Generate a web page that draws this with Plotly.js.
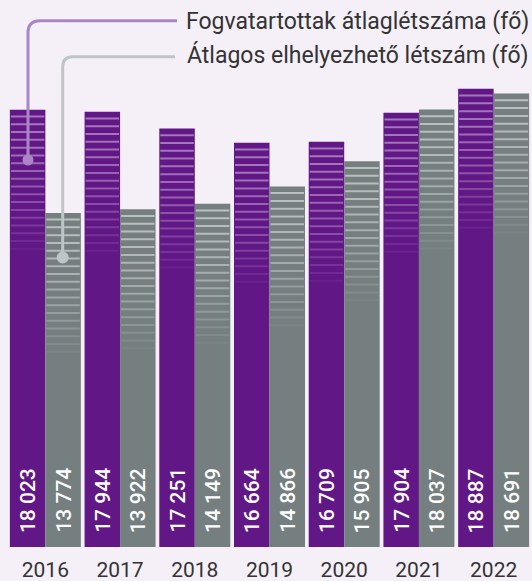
<!DOCTYPE html>
<html>
<head>
<meta charset="utf-8">
<script src="https://cdn.plot.ly/plotly-3.0.1.min.js"></script>
<style>html,body{margin:0;padding:0;background:#f5f0f8;}#chart{width:532px;height:581px;}</style>
</head>
<body>
<div id="chart"></div>
<script>
// ---- data ----
const years = ["2016", "2017", "2018", "2019", "2020", "2021", "2022"];
const inmates = [18023, 17944, 17251, 16664, 16709, 17904, 18887];   // Fogvatartottak átlaglétszáma (fő)
const capacity = [13774, 13922, 14149, 14866, 15905, 18037, 18691];  // Átlagos elhelyezhető létszám (fő)
const seriesNames = ["Fogvatartottak átlaglétszáma (fő)", "Átlagos elhelyezhető létszám (fő)"];

// ---- style ----
const PURPLE = "#621787", GRAY = "#757f80", BG = "#f5f0f8", TXT = "#333333";
const FONT = "Roboto, 'DejaVu Sans', sans-serif";
const W = 532, H = 581, M = {l: 8, r: 1, t: 74, b: 34};
const PW = W - M.l - M.r, PH = H - M.t - M.b;
const YMAX = 19500;
const BARGAP = 0.05;
const bw = (1 - BARGAP) / 2;           // bar width in category units
const upp = YMAX / PH;                 // data units per pixel (y)
const xpp = 7 / PW;                    // category units per pixel (x)
const px2x = px => (px - M.l) / PW;
const py2y = py => (H - M.b - py) / PH;

function fmt(v) {
  const s = String(v);
  return s.slice(0, s.length - 3) + " " + s.slice(-3);
}

const traces = [
  {type: "bar", x: years, y: inmates, name: seriesNames[0], marker: {color: PURPLE, line: {width: 0}}, hoverinfo: "none"},
  {type: "bar", x: years, y: capacity, name: seriesNames[1], marker: {color: GRAY, line: {width: 0}}, hoverinfo: "none"}
];

const shapes = [];
const annotations = [];
const NSTRIPES = 18, STEP = 7.78, FIRST = 6.7, THICK = 2;
[inmates, capacity].forEach((vals, s) => {
  const a0 = s === 0 ? 0.42 : 0.5;
  vals.forEach((v, i) => {
    const left = i - bw + s * bw;
    const right = left + bw;
    for (let k = 0; k < NSTRIPES; k++) {
      const t = k / (NSTRIPES - 1);
      const alpha = Math.max(0.04, a0 * (1 - Math.pow(t, 1.6)) + 0.05 * t);
      const yc = v - (FIRST + k * STEP) * upp;
      shapes.push({
        type: "rect", xref: "x", yref: "y", layer: "above",
        x0: left + 1 * xpp, x1: right - 1 * xpp,
        y0: yc - THICK / 2 * upp, y1: yc + THICK / 2 * upp,
        fillcolor: "rgba(255,255,255," + alpha.toFixed(3) + ")", line: {width: 0}
      });
    }
    annotations.push({
      xref: "x", yref: "y", x: left + bw / 2, y: 0,
      text: fmt(v), textangle: -90, showarrow: false,
      xanchor: "center", yanchor: "bottom", yshift: 12,
      font: {family: FONT, size: 21, color: "#ffffff", weight: 500}
    });
  });
});

// connector lines for the legend
function connector(xStart, yH, xV, yEnd, r) {
  return "M " + px2x(xStart) + " " + py2y(yH) +
         " L " + px2x(xV + r) + " " + py2y(yH) +
         " Q " + px2x(xV) + " " + py2y(yH) + " " + px2x(xV) + " " + py2y(yH + r) +
         " L " + px2x(xV) + " " + py2y(yEnd);
}
function dot(cx, cy, r, color) {
  return {type: "circle", xref: "paper", yref: "paper", layer: "above",
    x0: px2x(cx - r), x1: px2x(cx + r), y0: py2y(cy + r), y1: py2y(cy - r),
    fillcolor: color, line: {width: 0}};
}
const PLINE = "#a986c6", GLINE = "#bec5c6";
shapes.push({type: "path", xref: "paper", yref: "paper", layer: "above",
  path: connector(177, 20.7, 28, 160, 12), line: {color: PLINE, width: 3}});
shapes.push(dot(28, 160, 5.5, PLINE));
shapes.push({type: "path", xref: "paper", yref: "paper", layer: "above",
  path: connector(175, 56.7, 62.7, 257.5, 10), line: {color: GLINE, width: 3}});
shapes.push(dot(62.7, 257.5, 6, GLINE));

annotations.push({xref: "paper", yref: "paper", x: px2x(531), y: py2y(21), xanchor: "right", yanchor: "middle",
  text: seriesNames[0], showarrow: false, font: {family: FONT, size: 23, color: TXT}});
annotations.push({xref: "paper", yref: "paper", x: px2x(531), y: py2y(55), xanchor: "right", yanchor: "middle",
  text: seriesNames[1], showarrow: false, font: {family: FONT, size: 23, color: TXT}});

const layout = {
  width: W, height: H,
  margin: M,
  paper_bgcolor: BG, plot_bgcolor: BG,
  barmode: "group", bargap: BARGAP, bargroupgap: 0,
  showlegend: false,
  xaxis: {type: "category", range: [-0.5, 6.5], showgrid: false, zeroline: false, showline: false,
    ticks: "", ticklabelstandoff: 8, tickfont: {family: FONT, size: 21, color: TXT}, automargin: false, fixedrange: true},
  yaxis: {range: [0, YMAX], visible: false, fixedrange: true},
  shapes: shapes,
  annotations: annotations
};

Plotly.newPlot("chart", traces, layout, {displayModeBar: false, staticPlot: true});
</script>
</body>
</html>
